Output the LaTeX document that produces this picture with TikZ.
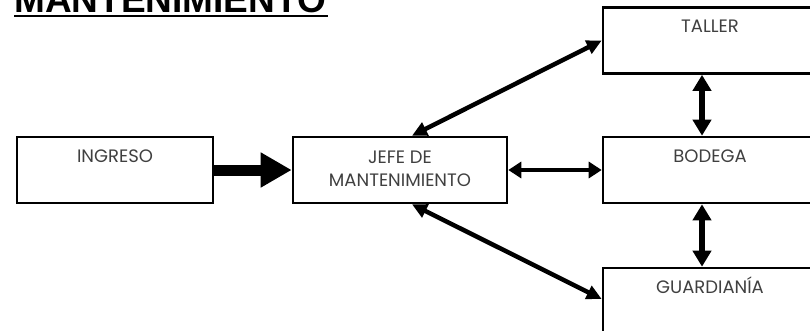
\documentclass[tikz,border=0pt]{standalone}
\usepackage{fontspec}
\setmainfont{Poppins}
\newfontfamily\titlefont{Liberation Sans}
\usetikzlibrary{arrows.meta,calc}
\begin{document}
\begin{tikzpicture}[x=1pt,y=-1pt,
  box/.style={draw=black, line width=2.6pt, minimum width=214pt, minimum height=66pt,
    inner sep=0pt, text height=25pt, text depth=41pt, align=center,
    font=\fontsize{18}{23}\selectfont, text=black!75},
  dblh/.style={line width=4.5pt, {Triangle[length=13pt,width=16pt]}-{Triangle[length=13pt,width=16pt]}},
  dblv/.style={line width=6pt, {Triangle[length=16pt,width=18pt]}-{Triangle[length=16pt,width=18pt]}},
  diag/.style={line width=4.5pt, {Triangle[length=15pt,width=14pt]}-{Triangle[length=15pt,width=14pt]}},
  bigarrow/.style={line width=11pt, -{Triangle[length=31pt,width=33pt]}}]
\clip (0,0) rectangle (810,330);
\fill[white] (0,0) rectangle (810,330);
% title
\node[anchor=base west, inner sep=0pt, font=\titlefont\bfseries\fontsize{37}{40}\selectfont] (title) at (14,12) {MANTENIMIENTO};
\draw[line width=2.2pt] ([yshift=-4pt]title.base west) -- ([yshift=-4pt,xshift=2pt]title.base east);
% boxes
\node[box, minimum width=196pt] (ing) at (115,170) {INGRESO};
\node[box, text height=49pt, text depth=17pt] (jefe) at (400,170) {JEFE DE\\MANTENIMIENTO};
\node[box] (taller) at (710,40.5) {TALLER};
\node[box] (bod) at (710,170) {BODEGA};
\node[box] (guard) at (710,301) {GUARDIANÍA};
% connectors
\draw[bigarrow] (ing.east) -- (jefe.west);
\draw[dblh] (jefe.east) -- (bod.west);
\draw[dblv] ([xshift=-8pt]taller.south) -- ([xshift=-8pt]bod.north);
\draw[dblv] ([xshift=-8pt]bod.south) -- ([xshift=-8pt]guard.north);
\draw[diag] ([xshift=12pt]jefe.north) -- (taller.west);
\draw[diag] ([xshift=12pt]jefe.south) -- ([yshift=2pt]guard.west);
\end{tikzpicture}
\end{document}
